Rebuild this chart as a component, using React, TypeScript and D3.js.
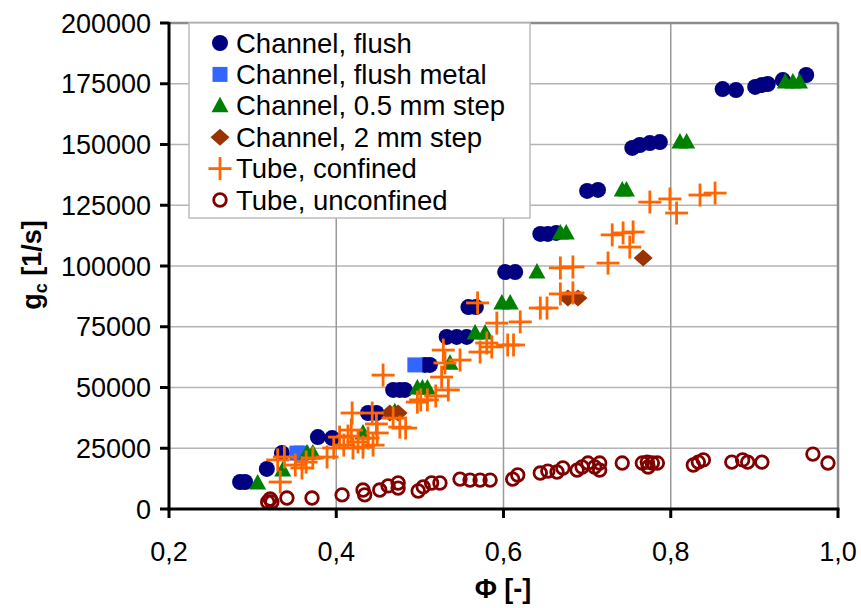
import * as d3 from 'd3';

// [phi, g_c] pairs
const channelFlush: [number, number][] = [
  [0.285, 11100], [0.291, 11100], [0.317, 16500], [0.335, 23000], [0.378, 29600], [0.395, 29200],
  [0.438, 39500], [0.448, 39500], [0.468, 49000], [0.476, 49000], [0.482, 49000],
  [0.506, 59300], [0.512, 59300], [0.532, 70800], [0.544, 70800], [0.556, 70800],
  [0.558, 83100], [0.567, 83100], [0.602, 97500], [0.614, 97500],
  [0.644, 113200], [0.653, 113200], [0.663, 113600], [0.700, 130900], [0.713, 131300],
  [0.754, 148600], [0.763, 149800], [0.775, 150600], [0.787, 151000],
  [0.862, 172800], [0.878, 172400], [0.901, 173700], [0.909, 174500], [0.916, 174900],
  [0.934, 176500], [0.962, 178600],
];
const channelFlushMetal: [number, number][] = [
  [0.353, 23000], [0.358, 23000], [0.494, 59300],
];
const channelStep05: [number, number][] = [
  [0.306, 10700], [0.336, 16000], [0.365, 23000], [0.372, 23000], [0.432, 31300], [0.470, 40000],
  [0.497, 49800], [0.503, 49800], [0.509, 49800], [0.536, 60000], [0.566, 72400], [0.578, 72400],
  [0.598, 84800], [0.608, 84800], [0.640, 97500], [0.668, 113600], [0.675, 113600],
  [0.742, 131300], [0.747, 131300], [0.811, 151000], [0.819, 151000],
  [0.937, 175700], [0.946, 175700], [0.954, 175700],
];
const channelStep2: [number, number][] = [
  [0.464, 39500], [0.474, 39500], [0.677, 86800], [0.689, 86800], [0.767, 103300],
];
const tubeConfined: [number, number][] = [
  [0.333, 11100], [0.330, 20200], [0.338, 21400], [0.351, 18100], [0.359, 16900], [0.364, 19300],
  [0.372, 21000], [0.389, 21400], [0.397, 25100], [0.404, 29600], [0.409, 26300], [0.414, 30000],
  [0.418, 32500], [0.420, 25100], [0.426, 27600], [0.432, 25500], [0.438, 29200], [0.444, 26300],
  [0.449, 31300], [0.419, 39500], [0.443, 39500], [0.448, 35000], [0.456, 55100], [0.468, 37400],
  [0.476, 33700], [0.483, 33300], [0.497, 44000], [0.501, 44900], [0.509, 44900], [0.519, 46500],
  [0.534, 49000], [0.526, 54300], [0.530, 60100], [0.528, 65400], [0.548, 61300], [0.572, 64600],
  [0.580, 68300], [0.586, 66700], [0.605, 67500], [0.612, 67500], [0.569, 84800], [0.592, 76500],
  [0.620, 77000], [0.644, 82700], [0.652, 82700], [0.668, 88500], [0.683, 88900], [0.668, 99200],
  [0.683, 99600], [0.725, 101200], [0.730, 112800], [0.743, 113600], [0.755, 114000],
  [0.751, 107800], [0.775, 126300], [0.799, 127600], [0.807, 121800], [0.835, 129200],
  [0.853, 130000],
];
const tubeUnconfined: [number, number][] = [
  [0.318, 2900], [0.323, 2900], [0.321, 4100], [0.341, 4500], [0.371, 4500], [0.407, 5800],
  [0.432, 7800], [0.434, 5800], [0.452, 7800], [0.462, 9500], [0.474, 10700], [0.474, 8600],
  [0.498, 7400], [0.504, 9100], [0.514, 10700], [0.524, 10700], [0.548, 12300], [0.560, 11900],
  [0.572, 11900], [0.584, 11900], [0.611, 12300], [0.617, 14000], [0.644, 14800], [0.653, 15600],
  [0.664, 15200], [0.671, 16900], [0.688, 16000], [0.694, 17300], [0.701, 18900], [0.709, 17300],
  [0.715, 18900], [0.715, 16000], [0.742, 18900], [0.766, 18900], [0.772, 19300], [0.778, 18900],
  [0.784, 18900], [0.773, 17300], [0.827, 18100], [0.833, 19300], [0.839, 20200], [0.873, 19300],
  [0.886, 20200], [0.892, 19300], [0.909, 19300], [0.970, 22600], [0.988, 18900],
];

const xTicks = [0.2, 0.4, 0.6, 0.8, 1.0];
const yTicks = [0, 25000, 50000, 75000, 100000, 125000, 150000, 175000, 200000];
const legendLabels = [
  'Channel, flush',
  'Channel, flush metal',
  'Channel, 0.5 mm step',
  'Channel, 2 mm step',
  'Tube, confined',
  'Tube, unconfined',
];

const FONT = '"Liberation Sans", Arial, sans-serif';
const C_NAVY = '#000080';
const C_BLUE = '#3366ff';
const C_GREEN = '#008000';
const C_BROWN = '#993300';
const C_ORANGE = '#ff6600';
const C_RED = '#800000';

const Marker = ({ kind, cx, cy }: { kind: number; cx: number; cy: number }) => {
  switch (kind) {
    case 0:
      return <circle cx={cx} cy={cy} r={8} fill={C_NAVY} />;
    case 1:
      return <rect x={cx - 7.5} y={cy - 7.5} width={15} height={15} fill={C_BLUE} />;
    case 2:
      return <path d={`M${cx},${cy - 9}L${cx + 8.5},${cy + 6.5}L${cx - 8.5},${cy + 6.5}Z`} fill={C_GREEN} />;
    case 3:
      return <path d={`M${cx},${cy - 8.5}L${cx + 9.5},${cy}L${cx},${cy + 8.5}L${cx - 9.5},${cy}Z`} fill={C_BROWN} />;
    case 4:
      return (
        <g stroke={C_ORANGE} strokeWidth={2.8}>
          <line x1={cx - 11.5} x2={cx + 11.5} y1={cy} y2={cy} />
          <line x1={cx} x2={cx} y1={cy - 11.5} y2={cy + 11.5} />
        </g>
      );
    default:
      return <circle cx={cx} cy={cy} r={6.3} fill="none" stroke={C_RED} strokeWidth={2.8} />;
  }
};

export default function App() {
  const left = 169, right = 838, top = 23, bottom = 509;
  const x = d3.scaleLinear().domain([0.2, 1.0]).range([left, right]);
  const y = d3.scaleLinear().domain([0, 200000]).range([bottom, top]);

  const series = [channelFlush, channelFlushMetal, channelStep05, channelStep2, tubeConfined, tubeUnconfined];

  return (
    <svg width={861} height={608} style={{ position: 'absolute', left: 0, top: 0, background: '#fff' }}
      fontFamily={FONT}>
      {/* grid */}
      {yTicks.slice(1, -1).map(t => (
        <line key={'gy' + t} x1={left} x2={right} y1={y(t)} y2={y(t)} stroke="#b4b4b4" strokeWidth={1.5} />
      ))}
      {xTicks.slice(1, -1).map(t => (
        <line key={'gx' + t} x1={x(t)} x2={x(t)} y1={top} y2={bottom} stroke="#9a9a9a" strokeWidth={1.5} />
      ))}
      {/* plot frame top/right */}
      <line x1={left} x2={right} y1={top} y2={top} stroke="#8c8c8c" strokeWidth={2.5} />
      <line x1={right} x2={right} y1={top} y2={bottom} stroke="#8c8c8c" strokeWidth={2.5} />

      {/* legend */}
      <rect x={189} y={23} width={341} height={195} fill="#fff" stroke="#bdbdbd" strokeWidth={1.5} />
      {legendLabels.map((label, i) => {
        const cy = 43 + i * 31.4;
        return (
          <g key={label}>
            <Marker kind={i} cx={220} cy={cy} />
            <text x={236} y={cy + 9.5} fontSize={27.5} fill="#000">{label}</text>
          </g>
        );
      })}

      {/* data */}
      {series.map((pts, k) => (
        <g key={'s' + k}>
          {pts.map((d, i) => <Marker key={i} kind={k} cx={x(d[0])} cy={y(d[1])} />)}
        </g>
      ))}

      {/* axes */}
      <line x1={left} x2={left} y1={top - 1} y2={bottom + 1.5} stroke="#000" strokeWidth={3} />
      <line x1={left - 1.5} x2={right + 1.5} y1={bottom} y2={bottom} stroke="#000" strokeWidth={3} />
      {yTicks.map(t => (
        <g key={'ty' + t}>
          <line x1={left - 9} x2={left} y1={y(t)} y2={y(t)} stroke="#000" strokeWidth={3} />
          <text x={151} y={y(t) + 9.5} fontSize={27} textAnchor="end" fill="#000">{t}</text>
        </g>
      ))}
      {xTicks.map(t => (
        <g key={'tx' + t}>
          <line x1={x(t)} x2={x(t)} y1={bottom} y2={bottom + 9} stroke="#000" strokeWidth={3} />
          <text x={x(t)} y={561} fontSize={27} textAnchor="middle" fill="#000">
            {d3.format('.1f')(t).replace('.', ',')}
          </text>
        </g>
      ))}

      {/* axis titles */}
      <text transform="translate(41,265) rotate(-90)" textAnchor="middle" fontSize={27} fontWeight="bold" fill="#000">
        g<tspan fontSize={18} dy={6}>c</tspan><tspan dy={-6}> [1/s]</tspan>
      </text>
      <text x={503} y={598} textAnchor="middle" fontSize={27} fontWeight="bold" fill="#000">Φ [-]</text>
    </svg>
  );
}
